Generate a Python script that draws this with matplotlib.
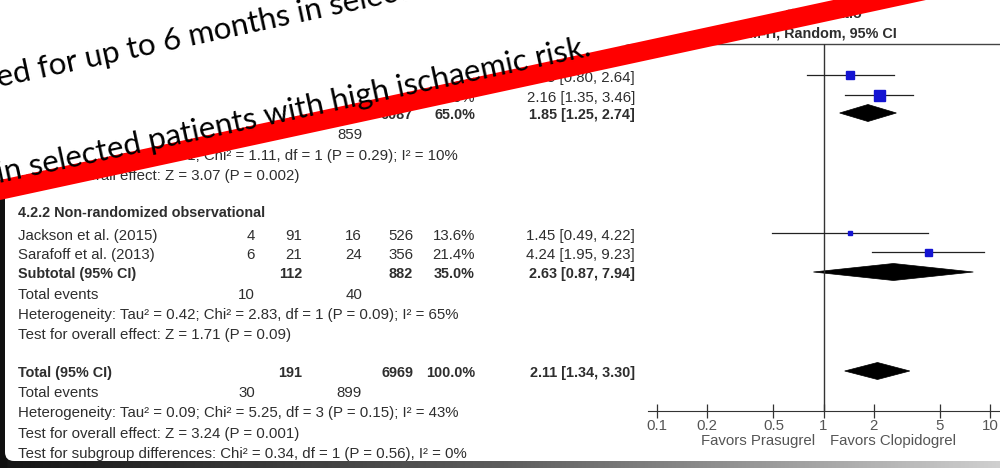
import numpy as np
import matplotlib.pyplot as plt
from matplotlib.patches import Polygon, FancyBboxPatch, Rectangle
from matplotlib.colors import LinearSegmentedColormap

# individual studies (first two belong to the randomized subgroup)
study_labels = ["", "", "Jackson et al. (2015)", "Sarafoff et al. (2013)"]
pras_events = ["", "", "4", "6"]
pras_total = ["", "", "91", "21"]
clop_events = ["", "", "16", "24"]
clop_total = ["", "", "526", "356"]
weights = [29.0, 36.0, 13.6, 21.4]
odds = [1.45, 2.16, 1.45, 4.24]
ci_low = [0.80, 1.35, 0.49, 1.95]
ci_high = [2.64, 3.46, 4.22, 9.23]

# pooled rows: subgroup 4.2.1, subgroup 4.2.2, overall
pooled_labels = ["Subtotal (95% CI)", "Subtotal (95% CI)", "Total (95% CI)"]
pooled_pras_total = [79, 112, 191]
pooled_clop_total = [6087, 882, 6969]
pooled_weight = [65.0, 35.0, 100.0]
pooled_or = [1.85, 2.63, 2.11]
pooled_low = [1.25, 0.87, 1.34]
pooled_high = [2.74, 7.94, 3.30]
events_pras = [20, 10, 30]
events_clop = [859, 40, 899]
heterogeneity = [
    "Heterogeneity: Tau\u00b2 = 0.01; Chi\u00b2 = 1.11, df = 1 (P = 0.29); I\u00b2 = 10%",
    "Heterogeneity: Tau\u00b2 = 0.42; Chi\u00b2 = 2.83, df = 1 (P = 0.09); I\u00b2 = 65%",
    "Heterogeneity: Tau\u00b2 = 0.09; Chi\u00b2 = 5.25, df = 3 (P = 0.15); I\u00b2 = 43%",
]
overall_effect = [
    "Test for overall effect: Z = 3.07 (P = 0.002)",
    "Test for overall effect: Z = 1.71 (P = 0.09)",
    "Test for overall effect: Z = 3.24 (P = 0.001)",
]
subgroup_test = "Test for subgroup differences: Chi\u00b2 = 0.34, df = 1 (P = 0.56), I\u00b2 = 0%"

tick_values = [0.1, 0.2, 0.5, 1, 2, 5, 10]
tick_labels = ["0.1", "0.2", "0.5", "1", "2", "5", "10"]

W, H = 1000, 468
INK = "#2e2e2e"
FS = 10.8
FS_BOLD = 10.4
FONT = "Liberation Sans"

fig = plt.figure(figsize=(W / 100, H / 100), dpi=100)
fig.patch.set_facecolor("white")

# base layer: pixel coordinates, y downwards
ax = fig.add_axes([0, 0, 1, 1], zorder=0)
shade = LinearSegmentedColormap.from_list("shade", ["#141414", "#5c5c5c", "#cfcfcf"])
ax.imshow(np.linspace(0, 1, 256)[None, :], extent=(0, W, H, 458), cmap=shade, aspect="auto")
ax.add_patch(Rectangle((-10, 0), 16, H, color="#101010"))
ax.add_patch(FancyBboxPatch((5, -60), 1100, 521, boxstyle="round,pad=0,rounding_size=9",
                            fc="white", ec="none"))
ax.set_xlim(0, W)
ax.set_ylim(H, 0)
ax.axis("off")


def put(x, y, s, ha="left", bold=False, color=INK):
    ax.text(x, y, s, ha=ha, va="center", fontsize=FS_BOLD if bold else FS, family=FONT,
            color=color, fontweight="bold" if bold else "normal")


LABEL_X = 18
COLS = [255, 302, 362, 413, 475]
CI_X = 635

# column header for the plot
put(823, 14, "Odds Ratio", ha="center", bold=True)
put(823, 33, "M-H, Random, 95% CI", ha="center", bold=True)
ax.plot([LABEL_X, W], [44, 44], color="#444444", lw=1)

study_y = [75, 95, 233, 252]
pooled_y = [113, 272, 371]
events_y = [135, 295, 393]
het_y = [156, 315, 413]
eff_y = [176, 335, 434]

put(LABEL_X, 213, "4.2.2 Non-randomized observational", bold=True)

for i, y in enumerate(study_y):
    ty = y + 3
    put(LABEL_X, ty, study_labels[i])
    for x, s in zip(COLS, [pras_events[i], pras_total[i], clop_events[i], clop_total[i],
                           f"{weights[i]:.1f}%"]):
        put(x, ty, s, ha="right")
    put(CI_X, ty, f"{odds[i]:.2f} [{ci_low[i]:.2f}, {ci_high[i]:.2f}]", ha="right")

for i in range(3):
    ty = pooled_y[i] + 2
    put(LABEL_X, ty, pooled_labels[i], bold=True)
    put(COLS[1], ty, str(pooled_pras_total[i]), ha="right", bold=True)
    put(COLS[3], ty, str(pooled_clop_total[i]), ha="right", bold=True)
    put(COLS[4], ty, f"{pooled_weight[i]:.1f}%", ha="right", bold=True)
    put(CI_X, ty, f"{pooled_or[i]:.2f} [{pooled_low[i]:.2f}, {pooled_high[i]:.2f}]",
        ha="right", bold=True)
    put(LABEL_X, events_y[i], "Total events")
    put(COLS[0], events_y[i], str(events_pras[i]), ha="right")
    put(COLS[2], events_y[i], str(events_clop[i]), ha="right")
    put(LABEL_X, het_y[i], heterogeneity[i])
    put(LABEL_X, eff_y[i], overall_effect[i])

put(LABEL_X, 454, subgroup_test)
put(815, 441, "Favors Prasugrel", ha="right", color="#555555")
put(830, 441, "Favors Clopidogrel", color="#555555")

# forest panel on a log scale: 1 sits at x=823.5, one decade = 166.5 px
left_px, right_px, top_px, axis_px = 600, W, 44, 411
x_lo = 10 ** ((left_px - 823.5) / 166.5)
x_hi = 10 ** ((right_px - 823.5) / 166.5)
fx = fig.add_axes([left_px / W, (H - axis_px) / H, (right_px - left_px) / W,
                   (axis_px - top_px) / H], zorder=1)
fx.patch.set_visible(False)
fx.set_xscale("log")
fx.set_xlim(x_lo, x_hi)
fx.set_ylim(axis_px, top_px)
for side in ("top", "right", "left"):
    fx.spines[side].set_visible(False)
fx.spines["bottom"].set_bounds(10 ** ((648 - 823.5) / 166.5), x_hi)
fx.spines["bottom"].set_color("#333333")
fx.set_yticks([])
fx.set_xticks(tick_values)
fx.set_xticklabels(tick_labels, family=FONT, fontsize=FS, color="#555555")
fx.minorticks_off()
fx.tick_params(axis="x", direction="inout", length=10, width=0.9, color="#333333", pad=1)

fx.plot([1, 1], [top_px, axis_px], color="#333333", lw=1)

marker_px = [8, 11, 5, 7]
for i, y in enumerate(study_y):
    fx.plot([ci_low[i], ci_high[i]], [y, y], color="#222222", lw=0.9)
    fx.plot(odds[i], y, marker="s", ms=marker_px[i] * 0.72, color="#1414d2", mec="#1414d2")

for i, y in enumerate(pooled_y):
    fx.add_patch(Polygon([(pooled_low[i], y), (pooled_or[i], y - 8.5),
                          (pooled_high[i], y), (pooled_or[i], y + 8.5)],
                         closed=True, fc="black", ec="black", lw=0.5))

# slide overlay: white text box, red strike band and the slide text
top = fig.add_axes([0, 0, 1, 1], zorder=5)
top.patch.set_visible(False)
top.set_xlim(0, W)
top.set_ylim(H, 0)
top.axis("off")

slope = 0.216
band_top, band_bot = 180, 200
xs = np.array([-20, W + 20])
top.add_patch(Polygon([(-20, -20), (W + 20, -20), (xs[1], band_top - slope * xs[1]),
                       (xs[0], band_top - slope * xs[0])], closed=True, fc="white", ec="none"))
top.add_patch(Polygon([(xs[0], band_top - slope * xs[0]), (xs[1], band_top - slope * xs[1]),
                       (xs[1], band_bot - slope * xs[1]), (xs[0], band_bot - slope * xs[0])],
                      closed=True, fc="#ff0000", ec="none"))

angle = np.degrees(np.arctan(0.215))
top.text(-1, 87, "ed for up to 6 months in selected patients", rotation=angle,
         rotation_mode="anchor", ha="left", va="baseline", fontsize=22.5, family="Lato",
         color="black")
top.text(-1, 183, "in selected patients with high ischaemic risk.", rotation=angle,
         rotation_mode="anchor", ha="left", va="baseline", fontsize=22.5, family="Lato",
         color="black")

fig.savefig("out.png", dpi=100)
